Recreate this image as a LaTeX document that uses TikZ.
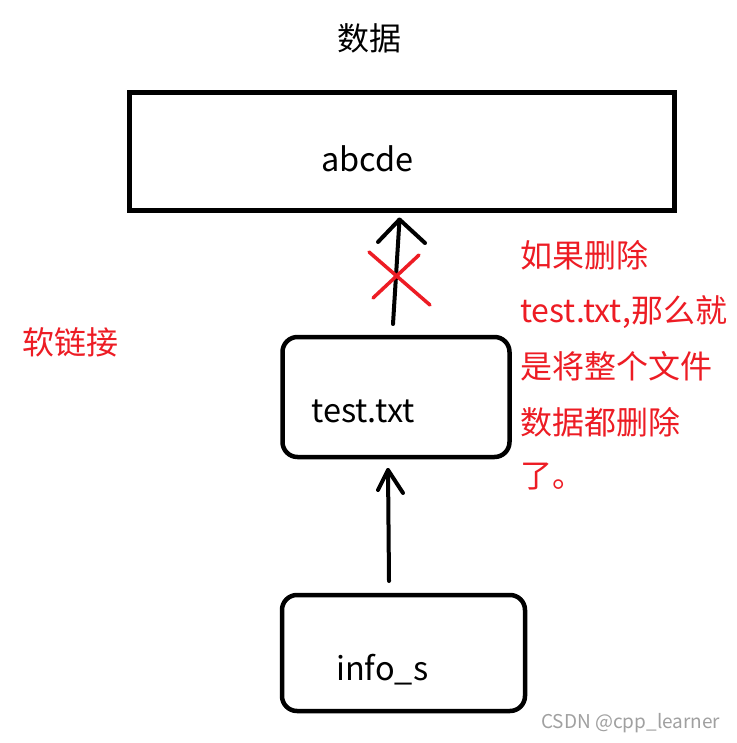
\documentclass[tikz,border=0pt]{standalone}
\usepackage{fontspec}
\setmainfont{Noto Sans CJK SC}
\usetikzlibrary{arrows.meta}
\definecolor{pred}{HTML}{ED1C24}
\definecolor{wm}{HTML}{A0A0A0}
\begin{document}
\begin{tikzpicture}[x=1pt,y=-1pt,
  box/.style={draw=black, line width=5pt, inner sep=0pt, outer sep=0pt},
  rbox/.style={draw=black, line width=4.5pt, rounded corners=15pt, inner sep=0pt, outer sep=0pt},
  lbl/.style={anchor=base west, inner sep=0pt, font=\fontsize{32.5}{38}\selectfont},
  rlbl/.style={lbl, text=pred, font=\fontsize{32}{38}\selectfont},
  conn/.style={draw=black, line width=4pt, line cap=round},
  cross/.style={draw=pred, line width=3.5pt, line cap=round}]
\useasboundingbox (0,0) rectangle (736,743);
\fill[white] (0,0) rectangle (736,743);
% boxes
\node[box, minimum width=545pt, minimum height=118pt] (data) at (402,151.5) {};
\node[rbox, minimum width=227pt, minimum height=120pt] (mid) at (396,397) {};
\node[rbox, minimum width=243pt, minimum height=116pt] (bot) at (403.5,653) {};
% texts
\node[lbl, font=\fontsize{32}{38}\selectfont] (tdata) at (337,51) {数据};
\node[lbl] (tabc) at (321,172) {abcde};
\node[lbl] (ttest) at (311,422) {test.txt};
\node[lbl] (tinfo) at (336,680) {info\_s};
\node[rlbl] (tsoft) at (22,354) {软链接};
\node[rlbl] (r1) at (520,267) {如果删除};
\node[rlbl] (r2) at (520,322) {test.txt,那么就};
\node[rlbl] (r3) at (520,378) {是将整个文件};
\node[rlbl] (r4) at (520,434) {数据都删除};
\node[rlbl] (r5) at (520,487) {了。};
\node[anchor=base west, inner sep=0pt, text=wm, font=\fontsize{19}{22}\selectfont] (wmark) at (541,728) {CSDN @cpp\_learner};
% connectors
\coordinate (a1s) at (393,324);
\coordinate (a1e) at (399.5,219.5);
\coordinate (a1l) at (378,242);
\coordinate (a1r) at (425,243);
\draw[conn] (a1s) -- (a1e);
\draw[conn, line join=round] (a1l) -- (a1e) -- (a1r);
\coordinate (a2s) at (389,581);
\coordinate (a2e) at (388,470);
\coordinate (a2l) at (378,490);
\coordinate (a2r) at (403,493);
\draw[conn] (a2s) -- (a2e);
\draw[conn, line join=round] (a2l) -- (a2e) -- (a2r);
% red cross
\coordinate (x1a) at (369,252);
\coordinate (x1b) at (430,305);
\coordinate (x2a) at (373,298);
\coordinate (x2b) at (419,255);
\draw[cross] (x1a) -- (x1b);
\draw[cross] (x2a) -- (x2b);
\end{tikzpicture}
\end{document}
